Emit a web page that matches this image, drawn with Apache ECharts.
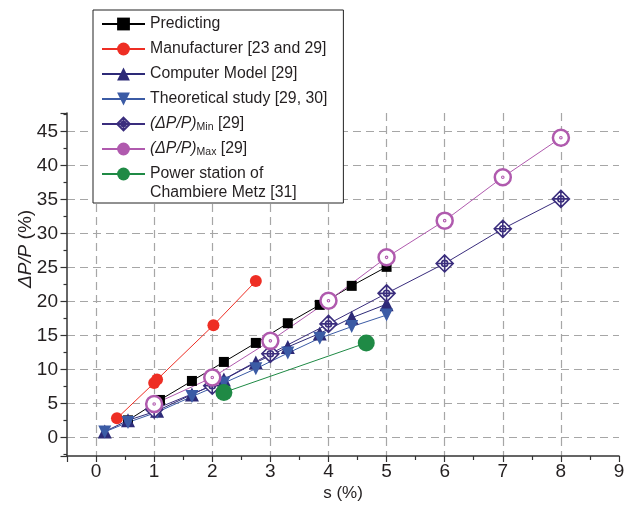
<!DOCTYPE html>
<html><head><meta charset="utf-8">
<script src="https://cdn.jsdelivr.net/npm/echarts@6/dist/echarts.min.js"></script>
<style>html,body{margin:0;padding:0;background:#fff}#c{width:624px;height:505px}</style>
</head><body><div id="c"></div>
<script>
// ---- data ----
const predX = [0.55, 1.1, 1.65, 2.2, 2.75, 3.3, 3.85, 4.4, 5.0];
const predY = [2.5, 5.5, 8.3, 11.1, 13.9, 16.8, 19.5, 22.3, 25.1];
const manuX = [0.36, 1.0, 1.05, 2.02, 2.75];
const manuY = [2.8, 8.0, 8.5, 16.5, 23.0];
const compX = [0.15, 0.55, 1.05, 1.65, 2.2, 2.75, 3.3, 3.85, 4.4, 5.0];
const compY = [0.85, 2.5, 3.9, 6.3, 8.5, 11.0, 13.3, 15.3, 17.6, 19.6];
const theoX = [0.15, 0.55, 1.05, 1.65, 2.2, 2.75, 3.3, 3.85, 4.4, 5.0];
const theoY = [0.8, 2.2, 3.7, 6.0, 8.0, 10.1, 12.4, 14.6, 16.3, 18.0];
const minX = [1, 2, 3, 4, 5, 6, 7, 8];
const minY = [4.1, 7.6, 12.3, 16.7, 21.2, 25.6, 30.7, 35.1];
const maxX = [1, 2, 3, 4, 5, 6, 7, 8];
const maxY = [4.9, 8.8, 14.2, 20.1, 26.5, 31.9, 38.3, 44.1];
const powX = [2.2, 4.65];
const powY = [6.6, 13.9];
const xTicks = [0, 1, 2, 3, 4, 5, 6, 7, 8, 9];
const yTicks = [0, 5, 10, 15, 20, 25, 30, 35, 40, 45];

const names = ['Predicting', 'Manufacturer [23 and 29]', 'Computer Model [29]',
  'Theoretical study [29, 30]', '(ΔP/P)Min [29]', '(ΔP/P)Max [29]',
  'Power station of Chambiere Metz [31]'];

const zip = (xs, ys) => xs.map((x, i) => [x, ys[i]]);
const FONT = 'Liberation Sans, Arial, Helvetica, sans-serif';
const TXT = '#231f20';

const minSym = 'path://M0,-10L10,0L0,10L-10,0Z M0,-10L0,10 M-10,0L10,0 M-3.6,0A3.6,3.6 0 1,1 3.6,0A3.6,3.6 0 1,1 -3.6,0Z';
const maxSym = 'path://M-10,0A10,10 0 1,1 10,0A10,10 0 1,1 -10,0Z M-0.7,0A0.7,0.7 0 1,1 0.7,0A0.7,0.7 0 1,1 -0.7,0Z';

function mk(name, xs, ys, color, symbol, size, extra) {
  return Object.assign({
    name, type: 'line', data: zip(xs, ys), symbol, symbolSize: size,
    showAllSymbol: true, animation: false,
    lineStyle: { color, width: 1 },
    itemStyle: { color },
    emphasis: { disabled: true }
  }, extra || {});
}

const series = [
  mk(names[0], predX, predY, '#000000', 'rect', 10),
  mk(names[1], manuX, manuY, '#ee2e24', 'circle', 12),
  mk(names[2], compX, compY, '#2d2a77', 'triangle', 14),
  mk(names[3], theoX, theoY, '#3b5ba5', 'triangle', 13, { symbolRotate: 180 }),
  mk(names[4], minX, minY, '#3a2d7d', minSym, 17, {
    itemStyle: { color: '#ffffff', borderColor: '#3a2d7d', borderWidth: 1.6 } }),
  mk(names[5], maxX, maxY, '#b05aae', maxSym, 16, {
    itemStyle: { color: '#ffffff', borderColor: '#b05aae', borderWidth: 2.5 } }),
  mk(names[6], powX, powY, '#1f8a45', 'circle', 17)
];

const axisLine = { show: true, onZero: false, lineStyle: { color: '#333', width: 1.5 } };
const split = { show: true, showMinLine: false, showMaxLine: false,
  lineStyle: { type: [8, 5], color: '#a6a6a6', width: 1.2 } };

const chart = echarts.init(document.getElementById('c'), null, { renderer: 'canvas' });
chart.setOption({
  backgroundColor: '#ffffff',
  animation: false,
  textStyle: { fontFamily: FONT },
  grid: { left: 67, right: 5, top: 113, bottom: 49, containLabel: false, outerBoundsMode: 'none' },
  xAxis: {
    type: 'value', min: -0.5, max: 9, splitNumber: 9,
    axisLine,
    axisTick: { show: true, length: 6, lineStyle: { color: '#333', width: 1.2 } },
    minorTick: { show: true, splitNumber: 2, length: 4, lineStyle: { color: '#333', width: 1.2 } },
    axisLabel: { showMinLabel: false, showMaxLabel: true, fontSize: 19, color: TXT, margin: 6,
      formatter: v => (xTicks.indexOf(v) >= 0 ? String(v) : '') },
    splitLine: split,
    name: 's (%)', nameLocation: 'middle', nameGap: 29, nameMoveOverlap: false,
    nameTextStyle: { fontSize: 17, color: TXT }
  },
  yAxis: {
    type: 'value', min: -2.75, max: 47.75, splitNumber: 10,
    axisLine,
    axisTick: { show: true, length: 6.5, lineStyle: { color: '#333', width: 1.2 } },
    minorTick: { show: true, splitNumber: 2, length: 3.5, lineStyle: { color: '#333', width: 1.2 } },
    axisLabel: { showMinLabel: false, showMaxLabel: false, fontSize: 19, color: TXT, margin: 9,
      formatter: v => (yTicks.indexOf(v) >= 0 ? String(v) : '') },
    splitLine: split,
    name: '{i|ΔP/P} (%)', nameLocation: 'middle', nameGap: 32, nameMoveOverlap: false,
    nameTextStyle: { fontSize: 19, color: TXT, padding: [0, 0, 0, 71],
      rich: { i: { fontStyle: 'italic', fontSize: 19, color: TXT } } }
  },
  legend: {
    orient: 'vertical', left: 93, top: 10,
    backgroundColor: '#ffffff', borderColor: '#222', borderWidth: 1,
    padding: [5, 16, 20, 8], itemWidth: 43, itemHeight: 16, itemGap: 7,
    selectedMode: false,
    data: names.map((n, i) => i === 5 ? { name: n, itemStyle: { color: '#b05aae', borderWidth: 0 } } : n),
    textStyle: { fontSize: 15.8, color: TXT, lineHeight: 18,
      rich: {
        it: { fontStyle: 'italic', fontSize: 15.8, lineHeight: 18, color: TXT },
        sub: { fontSize: 10.5, lineHeight: 9, verticalAlign: 'bottom', color: TXT },
        n: { fontSize: 15.8, lineHeight: 18, color: TXT }
      } },
    formatter: function (name) {
      if (name === names[4]) return '{it|(ΔP/P)}{sub|Min}{n| [29]}';
      if (name === names[5]) return '{it|(ΔP/P)}{sub|Max}{n| [29]}';
      if (name === names[6]) return 'Power station of';
      return name;
    }
  },
  graphic: [{
    type: 'text', left: 150, top: 185, z: 100,
    style: { text: 'Chambiere Metz [31]', fontSize: 15.8, fontFamily: FONT, fill: TXT }
  }],
  series
});
</script></body></html>
